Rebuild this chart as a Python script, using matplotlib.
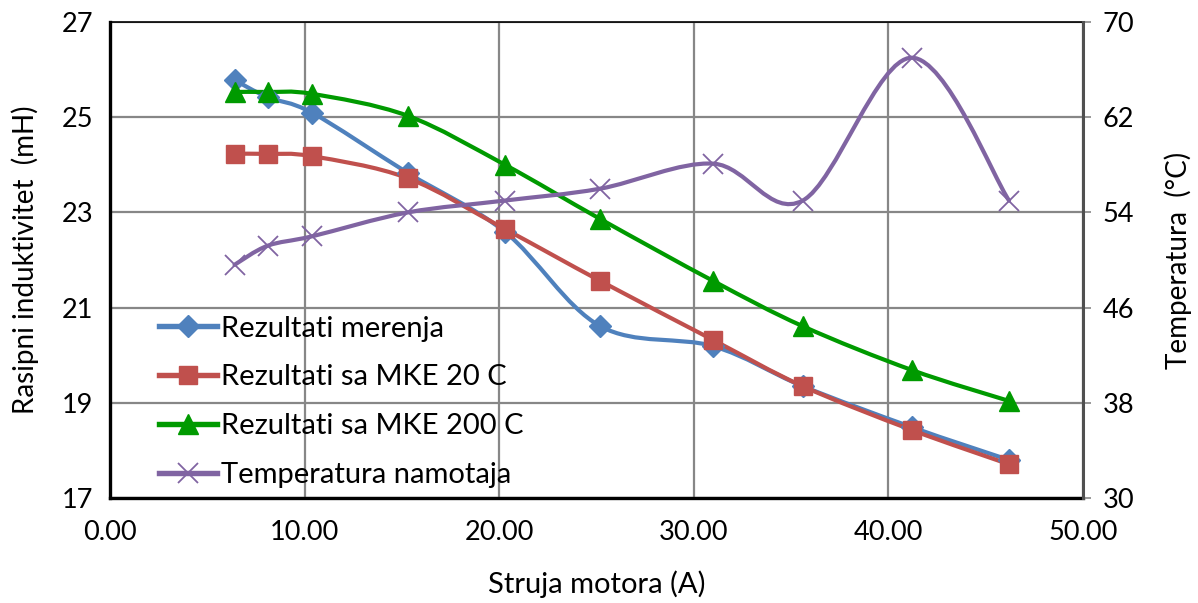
import matplotlib

matplotlib.use("Agg")
import matplotlib.pyplot as plt
from matplotlib.path import Path
from matplotlib.patches import PathPatch
from matplotlib.lines import Line2D
import numpy as np

plt.rcParams["font.family"] = ["Lato", "DejaVu Sans"]

# data
struja = [6.4, 8.1, 10.4, 15.3, 20.3, 25.2, 31.0, 35.6, 41.2, 46.2]
merenja = [25.78, 25.42, 25.09, 23.83, 22.59, 20.61, 20.19, 19.35, 18.49, 17.80]
mke20 = [24.23, 24.23, 24.18, 23.72, 22.65, 21.56, 20.32, 19.35, 18.43, 17.71]
mke200 = [25.53, 25.53, 25.49, 25.03, 24.00, 22.86, 21.56, 20.61, 19.69, 19.04]
temperatura = [49.6, 51.2, 52.0, 54.0, 55.0, 56.0, 58.1, 55.0, 67.0, 55.0]

x_ticks = [0, 10, 20, 30, 40, 50]
left_ticks = [17, 19, 21, 23, 25, 27]
right_ticks = [30, 38, 46, 54, 62, 70]

c_blue = "#4F81BD"
c_red = "#C0504D"
c_green = "#009A00"
c_purple = "#8064A2"


def smooth_path(xs, ys):
    # Excel-like smoothed line: Catmull-Rom segments as cubic Beziers
    p = np.column_stack([xs, ys]).astype(float)
    n = len(p)
    verts = [p[0]]
    codes = [Path.MOVETO]
    for i in range(n - 1):
        p0 = p[i - 1] if i > 0 else p[i]
        p3 = p[i + 2] if i + 2 < n else p[i + 1]
        c1 = p[i] + (p[i + 1] - p0) / 6.0
        c2 = p[i + 1] - (p3 - p[i]) / 6.0
        verts += [c1, c2, p[i + 1]]
        codes += [Path.CURVE4] * 3
    return Path(verts, codes)


fig = plt.figure(figsize=(11.98, 6.03), dpi=100)
ax = fig.add_axes([0.0918, 0.174, 0.8122, 0.7895])
ax2 = ax.twinx()

ax.set_xlim(0, 50)
ax.set_ylim(17, 27)
ax2.set_ylim(30, 70)
ax.set_xticks(x_ticks)
ax.set_xticklabels([f"{v:.2f}" for v in x_ticks])
ax.set_yticks(left_ticks)
ax2.set_yticks(right_ticks)

ax.grid(True, color="#878787", linewidth=1.6)
ax.set_axisbelow(True)

lw = 3.0
ms = 12
series = [
    (ax, merenja, c_blue, "D", "Rezultati merenja", ms * 0.95),
    (ax, mke20, c_red, "s", "Rezultati sa MKE 20 C", ms * 1.05),
    (ax, mke200, c_green, "^", "Rezultati sa MKE 200 C", ms * 1.15),
    (ax2, temperatura, c_purple, "x", "Temperatura namotaja", ms * 1.2),
]
handles = []
for a, vals, col, mk, lab, size in series:
    a.add_patch(PathPatch(smooth_path(struja, vals), facecolor="none",
                          edgecolor=col, linewidth=lw, capstyle="round",
                          joinstyle="round", zorder=3))
    a.plot(struja, vals, linestyle="none", marker=mk, markersize=size,
           color=col, markeredgecolor=col, markeredgewidth=1.3 if mk == "x" else 1,
           zorder=4)
    handles.append(Line2D([], [], color=col, linewidth=lw * 1.3, marker=mk,
                          markersize=size, markeredgecolor=col,
                          markeredgewidth=1.3 if mk == "x" else 1, label=lab))

leg = ax2.legend(handles=handles, loc="upper left", bbox_to_anchor=(0.038, 0.408),
                 frameon=False, fontsize=21, handlelength=2.0,
                 handletextpad=0.15, labelspacing=0.78, borderaxespad=0)
leg.set_zorder(10)

for s in ["left", "bottom"]:
    ax.spines[s].set_linewidth(2.4)
    ax.spines[s].set_color("black")
ax.spines["top"].set_linewidth(1.2)
ax.spines["top"].set_color("black")
ax2.spines["right"].set_linewidth(2.2)
ax2.spines["right"].set_color("#505050")
for s in ["left", "bottom", "top"]:
    ax2.spines[s].set_visible(False)

ax.tick_params(axis="both", length=0, labelsize=19.5, colors="black")
ax.tick_params(axis="y", pad=12)
ax.tick_params(axis="x", pad=16)
ax2.tick_params(axis="y", length=6, width=1.2, color="#878787",
                labelsize=19.5, pad=8)

ax.set_xlabel("Struja motora (A)", fontsize=21, labelpad=18)
ax.set_ylabel("Rasipni induktivitet  (mH)", fontsize=20, labelpad=16)
ax2.set_ylabel("Temperatura  (°C)", fontsize=20, labelpad=22)

fig.savefig("out.png", dpi=100)
